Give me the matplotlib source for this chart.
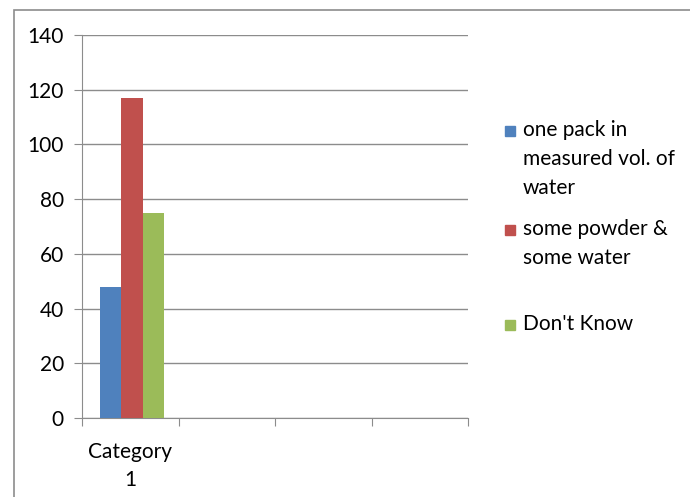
import numpy as np
import matplotlib.pyplot as plt
from matplotlib.patches import Rectangle

plt.rcParams['font.family'] = ['Lato', 'DejaVu Sans']

# data
categories = ['Category\n1', '', '', '']
series_names = ['one pack in\nmeasured vol. of\nwater', 'some powder &\nsome water', "Don't Know"]
series_values = [[48], [117], [75]]
colors = ['#4F81BD', '#C0504D', '#9BBB59']
y_ticks = [0, 20, 40, 60, 80, 100, 120, 140]

fig = plt.figure(figsize=(6.9, 4.97), dpi=100)
ax = fig.add_axes([82/690, 1-418/497, (468-82)/690, (418-35)/497])

# outer chart frame
fig.patches.append(Rectangle((14/690, -0.05), 1.0, 1-10/497+0.05, transform=fig.transFigure,
                             fill=False, edgecolor='#8c8c8c', linewidth=1.2))

n_cat = len(categories)
bar_w = 0.222
for i, (name, vals) in enumerate(zip(series_names, series_values)):
    x = np.arange(len(vals)) + 0.52 + (i - 1) * bar_w
    ax.bar(x, vals, width=bar_w, color=colors[i], zorder=3)

ax.set_xlim(0, n_cat)
ax.set_ylim(0, 140)
ax.set_yticks(y_ticks)
ax.set_yticklabels([str(v) for v in y_ticks], fontsize=15)
ax.yaxis.grid(True, color='#8c8c8c', linewidth=1.0, zorder=0)

# category boundaries carry ticks, labels sit in the middle
ax.set_xticks(np.arange(n_cat + 1))
ax.set_xticklabels([])
ax.set_xticks(np.arange(n_cat) + 0.5, minor=True)
ax.set_xticklabels(categories, minor=True, fontsize=15, linespacing=1.55)
ax.tick_params(axis='x', which='minor', length=0, pad=17)
ax.tick_params(axis='x', which='major', length=6, color='#8c8c8c', direction='out')
ax.tick_params(axis='y', length=6, color='#8c8c8c', direction='out', pad=7)

for side in ['top', 'right']:
    ax.spines[side].set_visible(False)
for side in ['left', 'bottom']:
    ax.spines[side].set_color('#8c8c8c')

# legend drawn by hand, Excel style
legend_y = [131, 230, 325]
for name, c, y in zip(series_names, colors, legend_y):
    fig.patches.append(Rectangle((505/690, 1-(y+5)/497), 10/690, 10/497,
                                 transform=fig.transFigure, color=c))
    fig.text(523/690, 1-(y-11)/497, name, fontsize=15, va='top', ha='left', linespacing=1.55)

fig.savefig('out.png', dpi=100)
